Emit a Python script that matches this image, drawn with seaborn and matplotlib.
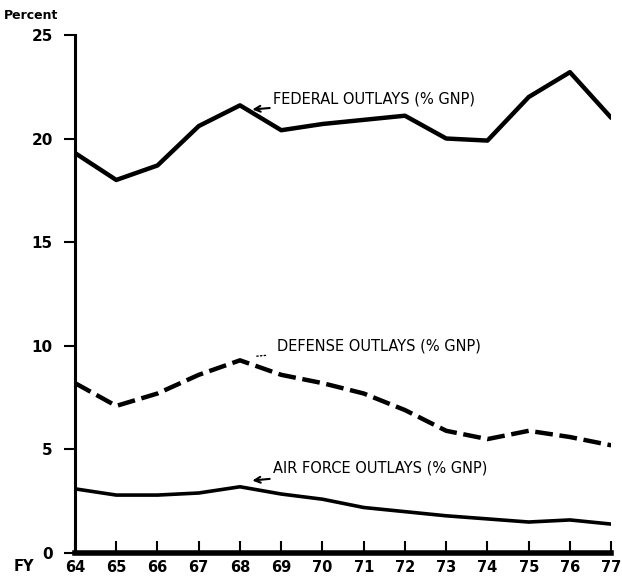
import pandas as pd
import seaborn as sns
import matplotlib.pyplot as plt

years = [64, 65, 66, 67, 68, 69, 70, 71, 72, 73, 74, 75, 76, 77]
federal = [19.3, 18.0, 18.7, 20.6, 21.6, 20.4, 20.7, 20.9, 21.1, 20.0, 19.9, 22.0, 23.2, 21.0]
defense = [8.2, 7.1, 7.7, 8.6, 9.3, 8.6, 8.2, 7.7, 6.9, 5.9, 5.5, 5.9, 5.6, 5.2]
air_force = [3.1, 2.8, 2.8, 2.9, 3.2, 2.85, 2.6, 2.2, 2.0, 1.8, 1.65, 1.5, 1.6, 1.4]
y_ticks = [0, 5, 10, 15, 20, 25]

sns.set_style("white")
plt.rcParams['font.family'] = ['DejaVu Sans']

df = pd.DataFrame({"FY": years, "federal": federal, "defense": defense, "air_force": air_force})

fig = plt.figure(figsize=(6.22, 5.81), dpi=100)
ax = fig.add_axes([0.1206, 0.048, 0.862, 0.892])

sns.lineplot(x="FY", y="federal", data=df, ax=ax, color="black", linewidth=3.2)
sns.lineplot(x="FY", y="defense", data=df, ax=ax, color="black", linewidth=3.2, linestyle=(0, (4, 1.5)))
sns.lineplot(x="FY", y="air_force", data=df, ax=ax, color="black", linewidth=2.6)

ax.set_xlim(64, 77)
ax.set_ylim(0, 25)
ax.set_xticks(years)
ax.set_xticklabels([str(y) for y in years], fontsize=10.5, fontweight="bold")
ax.set_yticks(y_ticks)
ax.set_yticklabels([str(t) for t in y_ticks], fontsize=11, fontweight="bold")
ax.set_xlabel("")
ax.set_ylabel("")

for s in ["top", "right"]:
    ax.spines[s].set_visible(False)
ax.spines["left"].set_linewidth(2.2)
ax.spines["bottom"].set_linewidth(4)
ax.spines["left"].set_color("black")
ax.spines["bottom"].set_color("black")
ax.tick_params(axis="y", direction="out", length=8, width=1.5, pad=8, colors="black", left=True)
ax.tick_params(axis="x", direction="in", length=9, width=1.5, pad=5, colors="black", bottom=True)

ax.text(-0.133, 1.03, "Percent", transform=ax.transAxes, fontsize=9, fontweight="bold", color="black")
ax.text(-0.114, -0.025, "FY", transform=ax.transAxes, fontsize=10.5, fontweight="bold", va="center", color="black")

ax.annotate("FEDERAL OUTLAYS (% GNP)", xy=(68.3, 21.4), xytext=(68.8, 21.9),
            fontsize=10.5, va="center", color="black",
            arrowprops=dict(arrowstyle="->", color="black", lw=1.5, shrinkA=0, shrinkB=0))
ax.annotate("DEFENSE OUTLAYS (% GNP)", xy=(68.4, 9.5), xytext=(68.9, 10.0),
            fontsize=10.5, va="center", color="black",
            arrowprops=dict(arrowstyle="-", color="black", lw=1, linestyle=":", shrinkA=6, shrinkB=0))
ax.annotate("AIR FORCE OUTLAYS (% GNP)", xy=(68.3, 3.5), xytext=(68.8, 4.1),
            fontsize=10.5, va="center", color="black",
            arrowprops=dict(arrowstyle="->", color="black", lw=1.5, shrinkA=0, shrinkB=0))

plt.savefig("out.png", dpi=100)
